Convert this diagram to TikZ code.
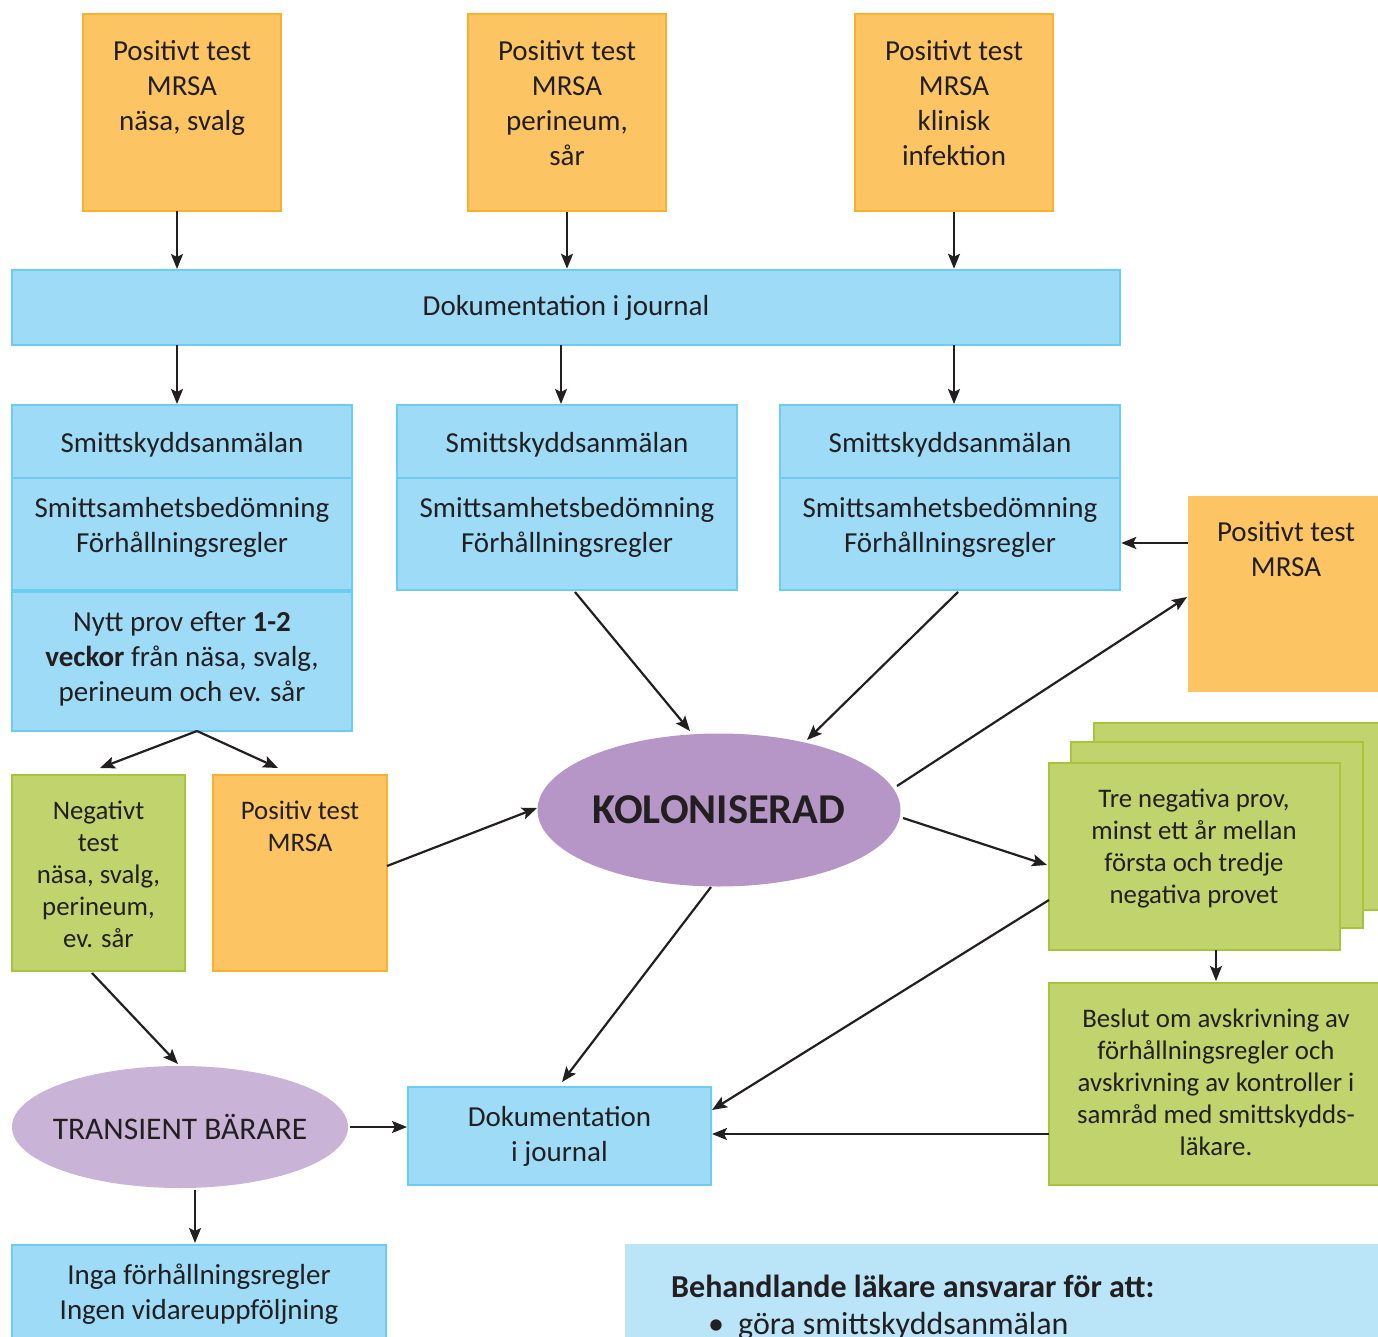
\documentclass[tikz,border=0pt]{standalone}
\usepackage{fontspec}
\setmainfont{Carlito}
\usetikzlibrary{arrows.meta,shapes.geometric}
\definecolor{ofill}{HTML}{FCC463}
\definecolor{oline}{HTML}{F9B02A}
\definecolor{bfill}{HTML}{9DDBF7}
\definecolor{bline}{HTML}{6BCDF4}
\definecolor{gfill}{HTML}{C1D36C}
\definecolor{gline}{HTML}{A9C43A}
\definecolor{pdark}{HTML}{B596C7}
\definecolor{plight}{HTML}{C9B3D7}
\definecolor{lblue}{HTML}{BAE5F8}
\definecolor{tcol}{HTML}{231F20}
\newcommand{\fstrut}{\rule{0pt}{1em}}
\begin{document}
\begin{tikzpicture}[x=1pt,y=-1pt,
  obox/.style={rectangle,fill=ofill,draw=oline,line width=2.5pt,inner sep=0},
  onob/.style={rectangle,fill=ofill,inner sep=0},
  bluebox/.style={rectangle,fill=bfill,draw=bline,line width=2.5pt,inner sep=0,text=tcol},
  gbox/.style={rectangle,fill=gfill,draw=gline,line width=2.5pt,inner sep=0},
  txtbig/.style={font=\fontsize{29}{35}\selectfont,align=center,inner sep=0,anchor=north,text=tcol},
  txtsm/.style={font=\fontsize{26.8}{32}\selectfont,align=center,inner sep=0,anchor=north,text=tcol},
  arr/.style={draw=tcol,line width=2.2pt,-{Stealth[length=15pt,width=12pt,inset=3pt]}},
  ln/.style={draw=tcol,line width=2.2pt}]
\useasboundingbox (0,0) rectangle (1378,1337);
\clip (0,0) rectangle (1378,1337);

% top orange boxes
\node[obox,minimum width=198,minimum height=197] (A) at (182,112.5) {};
\node[obox,minimum width=198,minimum height=197] (B) at (567,112.5) {};
\node[obox,minimum width=198,minimum height=197] (C) at (954,112.5) {};
\node[txtbig] (At) at (182,31) {\fstrut Positivt test\\MRSA\\näsa, svalg};
\node[txtbig] (Bt) at (567,31) {\fstrut Positivt test\\MRSA\\perineum,\\sår};
\node[txtbig] (Ct) at (954,31) {\fstrut Positivt test\\MRSA\\klinisk\\infektion};

% documentation bar
\node[bluebox,minimum width=1108,minimum height=75,font=\fontsize{29}{35}\selectfont] (doc) at (566,307.5) {Dokumentation i journal};

\draw[arr] (177,211) -- (177,269);
\draw[arr] (B.south) -- (B.south |- doc.north);
\draw[arr] (C.south) -- (C.south |- doc.north);

% smitt boxes
\foreach \n/\cx in {L/182,M/567,R/950}{
  \node[bluebox,minimum width=340,minimum height=73] (\n1) at (\cx,441.5) {};
  \node[bluebox,minimum width=340,minimum height=112] (\n2) at (\cx,534) {};
  \node[txtbig] (\n1t) at (\cx,423) {\fstrut Smittskyddsanmälan};
  \node[txtbig] (\n2t) at (\cx,488) {\fstrut Smittsamhetsbedömning\\Förhållningsregler};
}
\node[bluebox,minimum width=340,minimum height=139] (L3) at (182,661.5) {};
\node[txtbig] (L3t) at (182,602) {\fstrut Nytt prov efter \textbf{1-2}\\\textbf{veckor} från näsa, svalg,\\perineum och ev. sår};

\draw[arr] (177,345) -- (177,404);
\draw[arr] (561,345) -- (561,404);
\draw[arr] (954,345) -- (954,404);

% right orange
\node[onob,minimum width=200,minimum height=196] (D) at (1288,594) {};
\node[txtbig] (Dt) at (1286,512) {\fstrut Positivt test\\MRSA};
\draw[arr] (D.west |- 0,543) -- (R2.east |- 0,543);

% KOLONISERAD
\node[ellipse,fill=pdark,minimum width=363,minimum height=153,inner sep=0] (K) at (719,810) {};
\node[inner sep=0,text=tcol,font=\fontsize{42.5}{50}\selectfont\bfseries] (Kt) at (K.center) {KOLONISERAD};

% left split
\coordinate (sp) at (197,731);
\node[gbox,minimum width=173,minimum height=196] (N) at (98.5,873) {};
\node[txtsm] (Nt) at (98.5,792) {\fstrut Negativt\\test\\näsa, svalg,\\perineum,\\ev. sår};
\node[obox,minimum width=174,minimum height=196] (P) at (300,873) {};
\node[txtsm] (Pt) at (300,792) {\fstrut Positiv test\\MRSA};
\draw[arr] (sp) -- (100,768);
\draw[arr] (sp) -- (278,768);

% green stack
\node[gbox,minimum width=300,minimum height=187] (G3) at (1244,816.5) {};
\node[gbox,minimum width=292,minimum height=186] (G2) at (1217,835) {};
\node[gbox,minimum width=291,minimum height=187] (G1) at (1194.5,856.5) {};
\node[txtsm] (G1t) at (1194,780) {\fstrut Tre negativa prov,\\minst ett år mellan\\första och tredje\\negativa provet};
\node[gbox,minimum width=340,minimum height=202] (E) at (1219,1084) {};
\node[txtsm] (Et) at (1216,1000) {\fstrut Beslut om avskrivning av\\förhållningsregler och\\avskrivning av kontroller i\\samråd med smittskydds-\\läkare.};
\draw[arr] (1216,950) -- (1216,981);

% transient
\node[ellipse,fill=plight,minimum width=336,minimum height=122,inner sep=0] (T) at (180,1127) {};
\node[inner sep=0,text=tcol,font=\fontsize{31.5}{36}\selectfont] (Tt) at (T.center) {TRANSIENT BÄRARE};

% doc2
\node[bluebox,minimum width=303,minimum height=98] (D2) at (559.5,1136) {};
\node[txtbig] (D2t) at (559.5,1097) {\fstrut Dokumentation\\i journal};

% inga
\node[bluebox,minimum width=374,minimum height=130] (I) at (199,1310) {};
\node[txtbig] (It) at (199,1255) {\fstrut Inga förhållningsregler\\Ingen vidareuppföljning};

% bottom right info
\node[rectangle,fill=lblue,minimum width=780,minimum height=120,inner sep=0] (Inf) at (1015,1304) {};
\node[anchor=base west,inner sep=0,text=tcol,font=\fontsize{32}{38}\selectfont\bfseries] (Inf1) at (671,1297) {Behandlande läkare ansvarar för att:};
\node[anchor=base west,inner sep=0,text=tcol,font=\fontsize{32}{38}\selectfont] (Inf2) at (708,1334) {•\hspace{14pt}göra smittskyddsanmälan};

% connectors
\draw[arr] (575,592) -- (690,731);
\draw[arr] (958,592) -- (807,740);
\draw[arr] (897,786) -- (1187,597);
\draw[arr] (387,866) -- (537,808);
\draw[arr] (903,818) -- (1047,865);
\draw[arr] (711,887) -- (562,1082);
\draw[arr] (92,973) -- (178,1064);
\draw[arr] (350,1127) -- (407,1127);
\draw[arr] (195,1190) -- (195,1243);
\draw[arr] (1049,1134) -- (712,1134);
\draw[arr] (1049,900) -- (712,1110);
\end{tikzpicture}
\end{document}
